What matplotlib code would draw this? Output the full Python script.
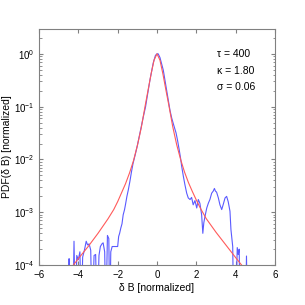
import numpy as np
import matplotlib
matplotlib.use('Agg')
import matplotlib.pyplot as plt
from matplotlib.ticker import LogLocator, FixedLocator

plt.rcParams['font.family'] = ['Liberation Sans', 'DejaVu Sans']

# fitted curve (red), log10 of pdf
fit_x = [-4.25, -4.0, -3.5, -3.0, -2.5, -2.2, -2.0, -1.8, -1.6, -1.4, -1.2, -1.0,
         -0.8, -0.6, -0.45, -0.3, -0.15, 0.0, 0.15, 0.3, 0.45, 0.6, 0.8, 1.0,
         1.2, 1.4, 1.6, 1.8, 2.0, 2.2, 2.5, 3.0, 3.5, 4.0, 4.3]
fit_log = [-4.0, -3.88, -3.65, -3.4, -3.13, -2.95, -2.8, -2.63, -2.46, -2.26, -2.03, -1.74,
           -1.4, -0.98, -0.68, -0.38, -0.12, 0.0, -0.12, -0.38, -0.68, -0.97, -1.38, -1.72,
           -2.0, -2.24, -2.44, -2.61, -2.77, -2.92, -3.12, -3.38, -3.62, -3.86, -4.0]

# measured pdf (blue), log10 of pdf, -5 = empty bin
data_x = [-4.5, -4.47, -4.44, -4.28, -4.22, -4.15, -4.08, -4.0, -3.92, -3.85,
          -3.78, -3.68, -3.6, -3.53, -3.45, -3.37, -3.3, -3.2, -3.12, -3.04,
          -2.95, -2.88, -2.8, -2.74, -2.66, -2.6, -2.52, -2.45, -2.4, -2.35,
          -2.28, -2.2, -2.1, -2.0, -1.95, -1.9, -1.84, -1.78, -1.72, -1.65,
          -1.6, -1.53, -1.46, -1.38, -1.3, -1.22, -1.1, -1.0, -0.9, -0.8,
          -0.7, -0.58, -0.52, -0.36, -0.19, -0.08, 0.0, 0.06, 0.15, 0.32,
          0.49, 0.66, 0.75, 0.85, 0.97, 1.05, 1.13, 1.2, 1.25, 1.34,
          1.42, 1.51, 1.59, 1.68, 1.76, 1.84, 1.93, 2.02, 2.1, 2.18,
          2.27, 2.33, 2.38, 2.44, 2.53, 2.61, 2.69, 2.78, 2.86, 2.92,
          2.97, 3.03, 3.12, 3.2, 3.29, 3.37, 3.46, 3.54, 3.62, 3.71,
          3.76, 3.85, 3.9, 4.0, 4.08, 4.13, 4.18, 4.22, 4.5, 4.55, 4.6]
data_log = [-5, -3.88, -5, -5, -3.55, -5, -3.82, -3.9, -3.75, -5,
            -3.85, -3.7, -3.55, -3.62, -3.6, -3.72, -5, -3.82, -3.8, -5,
            -3.82, -3.65, -3.6, -3.58, -3.75, -5, -3.44, -3.5, -5, -3.75,
            -3.65, -3.65, -3.65, -3.65, -3.46, -3.4, -3.3, -3.22, -3.05, -2.95,
            -2.85, -2.7, -2.58, -2.42, -2.24, -2.08, -1.9, -1.74, -1.56, -1.38,
            -1.2, -1.0, -0.86, -0.5, -0.17, -0.03, 0.0, 0.0, -0.07, -0.31,
            -0.69, -1.07, -1.22, -1.35, -1.5, -1.65, -1.82, -1.98, -2.12, -2.32,
            -2.48, -2.64, -2.73, -2.76, -2.72, -2.86, -2.78, -2.92, -2.76, -2.83,
            -3.05, -3.4, -3.2, -3.08, -2.92, -2.83, -2.76, -2.64, -2.6, -2.55,
            -2.6, -2.62, -2.73, -2.86, -2.95, -2.85, -2.73, -2.7, -2.8, -2.98,
            -3.33, -3.65, -5, -5, -3.67, -3.8, -3.7, -5, -5, -3.83, -5]

params = ['\u03c4 = 400', '\u03ba = 1.80', '\u03c3 = 0.06']

fig = plt.figure(figsize=(3.05, 3.05), dpi=100)
ax = fig.add_axes([39 / 305, 40 / 305, 236 / 305, 236 / 305])

ax.plot(data_x, 10.0 ** np.array(data_log), color='#5a5aff', lw=0.8)
ax.plot(fit_x, 10.0 ** np.array(fit_log), color='#ff5a5a', lw=0.8)

ax.set_yscale('log')
ax.set_xlim(-6, 6)
ax.set_ylim(1e-4, 10 ** 0.47)
ax.xaxis.set_major_locator(FixedLocator([-6, -4, -2, 0, 2, 4, 6]))
ax.yaxis.set_major_locator(LogLocator(base=10, numticks=10))
ax.yaxis.set_minor_locator(LogLocator(base=10, subs=np.arange(2, 10), numticks=10))

for s in ax.spines.values():
    s.set_color('#808080')
    s.set_linewidth(0.8)
ax.tick_params(which='both', direction='in', top=True, right=True,
               color='#808080', labelsize=7, labelcolor='black')
ax.tick_params(which='major', length=3)
ax.tick_params(which='minor', length=1.8)

for i, t in enumerate(params):
    ax.text(0.753, 0.894 - i * 0.07, t, transform=ax.transAxes,
            fontsize=7.5, va='center', ha='left')

ax.set_xlabel('\u03b4 B [normalized]', fontsize=7.5, labelpad=2)
ax.set_ylabel('PDF(\u03b4 B) [normalized]', fontsize=7.5, labelpad=1)

fig.savefig('out.png', dpi=100)
